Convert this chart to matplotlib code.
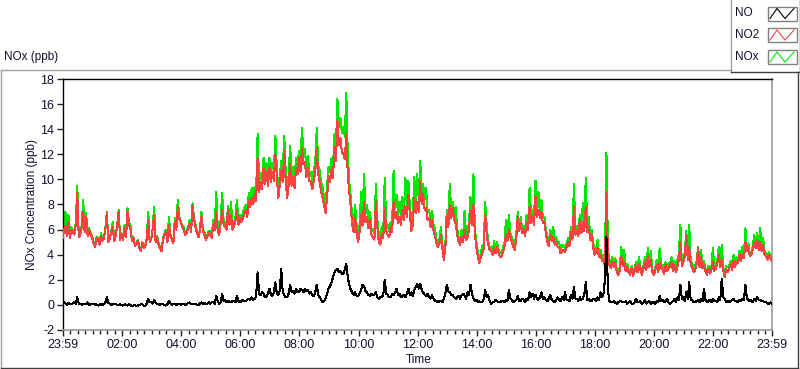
import numpy as np
import matplotlib
matplotlib.use("Agg")
import matplotlib.pyplot as plt
from matplotlib.lines import Line2D
from matplotlib.patches import Rectangle

plt.rcParams['font.family'] = ['Liberation Sans', 'DejaVu Sans']

# ---------------- data (3-minute samples from 23:59 to 23:59, one row per hour) ----------------
no2 = [
    5.3, 5.9, 6.3, 5.5, 6.6, 5.3, 6.0, 5.8, 5.6, 6.4, 8.9, 5.4, 5.6, 6.2, 7.4, 5.8, 7.0, 5.5, 6.0, 5.6,
    5.4, 4.9, 4.6, 5.3, 5.2, 4.8, 5.5, 5.1, 5.3, 6.0, 7.3, 5.0, 5.3, 5.8, 6.2, 5.1, 5.5, 6.3, 7.4, 5.2,
    5.6, 5.2, 6.1, 5.4, 7.5, 6.4, 6.0, 5.1, 5.3, 4.7, 4.8, 5.1, 4.5, 4.3, 4.9, 4.5, 4.7, 5.2, 6.8, 5.0,
    5.2, 6.0, 7.2, 5.0, 5.4, 4.8, 4.5, 4.3, 5.2, 5.6, 5.8, 5.0, 6.4, 5.5, 5.2, 4.9, 6.6, 6.0, 7.8, 6.9,
    6.6, 6.2, 6.0, 5.6, 5.7, 6.1, 6.5, 5.8, 7.9, 6.8, 6.2, 5.7, 5.4, 5.9, 7.0, 5.9, 5.6, 5.2, 5.4, 5.8,
    5.6, 5.3, 6.4, 6.0, 7.4, 5.9, 5.6, 6.5, 7.6, 6.4, 6.2, 6.0, 7.6, 6.4, 7.2, 6.0, 6.3, 6.7, 7.6, 6.4,
    6.9, 6.6, 6.9, 7.3, 7.6, 7.0, 8.4, 7.8, 8.5, 8.0, 8.8, 8.3, 11.7, 9.0, 9.8, 9.2, 10.9, 9.6, 10.6, 9.5,
    10.9, 9.8, 10.6, 9.9, 12.0, 10.2, 8.5, 9.6, 10.7, 9.8, 12.3, 9.9, 8.5, 9.6, 11.2, 9.5, 10.2, 9.3, 10.9, 10.4,
    11.7, 10.6, 12.5, 11.2, 11.4, 10.2, 10.9, 9.9, 9.8, 9.2, 9.9, 10.6, 12.5, 10.4, 9.8, 9.0, 8.5, 7.9, 7.3, 8.6,
    10.3, 9.8, 10.8, 10.1, 12.6, 11.5, 14.7, 12.7, 13.3, 12.2, 12.0, 11.6, 13.6, 10.4, 9.0, 7.8, 6.4, 5.8, 6.9, 5.7,
    5.0, 5.8, 7.2, 6.3, 8.2, 6.6, 7.0, 6.1, 6.8, 5.6, 5.4, 5.2, 8.2, 6.2, 5.0, 4.8, 5.6, 5.3, 7.7, 5.9,
    5.6, 5.4, 6.2, 5.8, 8.2, 6.9, 7.4, 6.5, 7.0, 6.4, 7.6, 6.8, 7.9, 7.0, 8.8, 7.2, 5.9, 6.4, 8.5, 7.3,
    8.2, 7.4, 9.9, 8.0, 8.8, 7.6, 7.7, 6.8, 6.9, 6.2, 6.8, 5.9, 5.5, 4.9, 4.6, 4.9, 5.6, 4.5, 3.6, 4.5,
    7.2, 6.2, 8.0, 6.9, 7.7, 6.8, 6.5, 5.6, 5.0, 4.8, 5.4, 5.0, 6.0, 5.2, 5.4, 6.0, 7.5, 6.4, 8.0, 5.6,
    4.6, 3.9, 3.3, 3.8, 4.1, 4.5, 7.2, 5.6, 4.8, 4.4, 4.3, 4.0, 4.5, 4.1, 4.6, 4.2, 3.8, 3.9, 4.2, 4.6,
    5.6, 5.1, 6.0, 5.4, 5.0, 4.6, 4.4, 5.3, 7.0, 5.9, 6.5, 5.7, 6.0, 5.5, 6.6, 6.0, 7.8, 6.5, 7.0, 6.4,
    8.6, 7.0, 7.6, 6.9, 7.4, 6.5, 6.6, 5.7, 5.0, 4.7, 5.6, 5.1, 5.4, 4.8, 5.0, 4.6, 4.6, 4.1, 4.2, 4.4,
    4.2, 4.6, 5.0, 4.7, 5.8, 5.2, 7.8, 5.6, 5.9, 5.5, 6.8, 5.7, 6.6, 5.9, 7.8, 5.8, 6.3, 5.2, 5.6, 4.6,
    4.0, 4.2, 4.5, 3.8, 4.0, 3.5, 3.6, 3.1, 9.0, 4.0, 3.2, 2.9, 3.4, 3.0, 3.4, 2.6, 2.4, 2.7, 3.8, 3.1,
    3.4, 2.7, 3.0, 2.6, 2.4, 2.9, 2.3, 2.7, 3.2, 2.6, 3.3, 2.8, 2.4, 2.9, 3.4, 2.8, 3.9, 3.0, 3.6, 2.6,
    2.4, 2.7, 3.2, 2.6, 3.4, 3.0, 2.8, 2.5, 3.2, 2.7, 2.9, 3.1, 3.4, 2.7, 3.2, 2.6, 3.0, 3.6, 5.0, 3.1,
    3.4, 3.9, 5.6, 3.6, 4.6, 3.2, 3.0, 2.6, 2.8, 3.3, 4.5, 3.0, 3.8, 2.9, 3.2, 2.7, 2.4, 2.9, 2.5, 2.8,
    3.4, 2.7, 2.9, 3.3, 4.0, 3.0, 3.6, 2.8, 2.2, 2.9, 2.6, 2.9, 3.2, 2.8, 3.5, 3.0, 3.4, 3.3, 4.0, 3.5,
    4.0, 3.7, 5.0, 4.3, 4.6, 3.9, 4.0, 4.4, 5.0, 4.5, 5.2, 4.4, 5.0, 4.3, 4.8, 4.0, 3.9, 3.6, 4.0, 3.7, 3.5,
]

nox = [
    5.5, 6.0, 7.4, 5.6, 7.2, 5.4, 6.2, 5.9, 5.7, 6.6, 9.5, 5.5, 5.7, 6.3, 8.4, 5.9, 7.3, 5.6, 6.1, 5.7,
    5.5, 5.0, 4.8, 5.4, 5.3, 4.9, 5.7, 5.2, 5.4, 6.1, 7.4, 5.1, 5.4, 5.9, 6.6, 5.2, 5.6, 6.4, 7.6, 5.3,
    5.7, 5.3, 6.4, 5.5, 7.7, 6.5, 6.3, 5.2, 5.4, 4.8, 4.9, 5.2, 4.6, 4.4, 5.0, 4.6, 4.8, 5.3, 7.4, 5.1,
    5.3, 6.1, 7.8, 5.1, 5.5, 4.9, 4.6, 4.4, 5.3, 5.7, 6.0, 5.1, 7.0, 5.6, 5.3, 5.0, 6.9, 6.1, 8.4, 7.0,
    6.7, 6.3, 6.2, 5.7, 5.9, 6.2, 6.8, 5.9, 8.1, 6.9, 6.4, 5.8, 5.6, 6.0, 7.4, 6.0, 5.8, 5.3, 5.6, 5.9,
    5.9, 5.5, 6.8, 6.2, 9.0, 6.2, 6.0, 6.8, 8.9, 6.7, 6.6, 6.3, 7.9, 6.7, 8.2, 6.3, 6.6, 7.0, 8.4, 6.8,
    7.2, 6.9, 7.3, 7.7, 8.0, 7.4, 8.9, 8.3, 9.3, 8.5, 9.4, 8.9, 13.6, 9.8, 10.5, 9.9, 11.7, 10.3, 11.3, 10.2,
    11.7, 10.5, 11.3, 10.6, 13.5, 10.9, 9.2, 10.3, 11.5, 10.5, 13.5, 10.6, 9.4, 10.3, 12.7, 10.2, 11.0, 10.0, 11.7, 11.1,
    12.3, 11.3, 14.1, 11.9, 12.4, 10.9, 11.9, 10.6, 10.6, 9.9, 10.8, 11.3, 14.1, 11.1, 10.7, 9.7, 9.4, 8.5, 8.2, 9.4,
    11.0, 10.6, 11.7, 11.0, 13.6, 12.6, 16.4, 14.2, 14.9, 13.7, 14.2, 13.4, 16.9, 12.0, 9.8, 8.6, 7.0, 6.4, 8.0, 6.3,
    5.6, 6.4, 9.0, 6.9, 10.4, 7.3, 8.0, 6.7, 7.4, 6.1, 6.0, 5.7, 9.6, 6.8, 5.6, 5.3, 6.2, 5.8, 10.1, 6.5,
    6.4, 5.9, 6.6, 6.3, 10.7, 7.6, 8.8, 7.2, 8.2, 7.0, 8.6, 7.4, 10.1, 7.7, 9.9, 7.9, 6.6, 7.0, 10.2, 8.2,
    10.4, 8.4, 11.5, 8.9, 9.6, 8.4, 9.3, 7.4, 7.6, 6.7, 7.5, 6.4, 6.0, 5.2, 5.0, 5.2, 6.2, 4.8, 4.1, 4.8,
    7.6, 6.8, 9.6, 7.5, 8.2, 7.3, 7.8, 6.1, 5.4, 5.2, 6.0, 5.4, 7.5, 5.6, 6.0, 6.5, 8.6, 7.3, 10.4, 6.0,
    5.0, 4.2, 3.7, 4.1, 4.7, 4.8, 8.2, 6.2, 5.1, 4.6, 4.6, 4.2, 5.1, 4.3, 5.0, 4.4, 4.1, 4.1, 4.6, 4.9,
    6.8, 5.4, 7.2, 5.7, 5.4, 4.9, 4.8, 5.6, 7.4, 6.2, 7.0, 6.0, 6.3, 5.8, 7.2, 6.4, 9.3, 7.1, 7.6, 6.9,
    9.9, 7.5, 9.0, 7.3, 8.4, 6.9, 7.0, 6.0, 5.4, 5.0, 6.0, 5.4, 6.2, 5.1, 5.4, 4.9, 5.0, 4.3, 4.8, 4.7,
    4.5, 4.9, 5.3, 5.0, 6.2, 5.5, 9.6, 6.0, 6.3, 5.8, 7.2, 6.0, 8.1, 6.2, 10.1, 6.2, 7.0, 5.5, 6.0, 4.9,
    4.6, 4.4, 5.2, 4.0, 4.4, 3.7, 4.0, 3.3, 12.1, 4.4, 3.6, 3.1, 3.8, 3.2, 3.7, 2.8, 2.7, 2.9, 4.6, 3.3,
    4.4, 2.9, 3.3, 2.8, 2.7, 3.1, 2.6, 2.9, 3.4, 2.8, 3.8, 3.0, 2.6, 3.1, 3.8, 3.0, 4.5, 3.2, 4.3, 2.8,
    2.7, 2.9, 3.6, 2.8, 4.5, 3.2, 3.2, 2.7, 3.4, 2.9, 3.3, 3.3, 3.8, 2.9, 3.5, 2.8, 3.6, 4.0, 6.4, 3.3,
    3.6, 4.2, 5.9, 3.8, 6.4, 3.4, 3.3, 2.8, 3.1, 3.5, 4.6, 3.2, 4.4, 3.1, 3.5, 2.9, 2.7, 3.1, 2.8, 3.0,
    4.5, 2.9, 3.2, 3.5, 4.6, 3.2, 4.8, 3.0, 2.5, 3.1, 3.0, 3.1, 3.5, 3.0, 4.0, 3.2, 3.8, 3.5, 4.3, 3.7,
    4.6, 3.9, 6.1, 4.5, 4.9, 4.1, 4.2, 4.6, 5.6, 4.7, 5.7, 4.6, 6.1, 4.5, 5.3, 4.2, 4.1, 3.8, 4.2, 3.9, 3.6,
]

no = [
    0.4, 0.2, 0.1, 0.0, 0.15, 0.1, 0.05, 0.15, 0.2, 0.1, 0.6, 0.1, 0.1, 0.0, 0.05, 0.1, 0.1, 0.2, 0.0, 0.05,
    0.05, 0.1, 0.0, 0.05, -0.05, 0.0, 0.1, 0.0, 0.05, 0.2, 0.6, 0.15, 0.1, 0.0, 0.05, 0.1, 0.1, 0.0, 0.0, 0.05,
    0.0, -0.05, 0.05, 0.0, -0.05, 0.05, 0.0, -0.1, -0.05, 0.0, -0.1, -0.05, 0.0, 0.05, 0.05, -0.05, -0.05, 0.1, 0.5, 0.2,
    0.2, 0.1, 0.4, 0.15, 0.1, 0.05, 0.0, 0.1, 0.05, 0.0, -0.05, 0.05, 0.3, 0.1, 0.0, 0.05, 0.1, 0.0, 0.05, 0.1,
    0.0, 0.05, 0.1, 0.0, 0.05, 0.15, 0.2, 0.05, 0.05, 0.1, 0.1, 0.0, 0.0, 0.1, 0.2, 0.1, 0.15, 0.05, 0.1, 0.2,
    0.1, 0.2, 0.2, 0.1, 0.7, 0.3, 0.1, 0.2, 0.9, 0.3, 0.4, 0.2, 0.3, 0.25, 0.2, 0.3, 0.3, 0.2, 0.7, 0.3,
    0.2, 0.3, 0.4, 0.3, 0.3, 0.4, 0.5, 0.4, 0.6, 0.4, 0.5, 0.7, 2.6, 0.9, 0.8, 1.0, 0.9, 0.6, 0.7, 0.9,
    1.3, 0.8, 0.7, 1.0, 1.8, 0.9, 0.8, 1.1, 2.9, 1.0, 0.8, 0.6, 0.6, 0.9, 1.6, 1.0, 1.1, 0.9, 1.3, 1.0,
    1.0, 1.3, 1.2, 1.0, 1.3, 1.1, 1.2, 0.9, 1.0, 0.8, 0.7, 1.0, 1.6, 0.8, 0.6, 0.4, 0.2, 0.3, 0.5, 0.9,
    1.3, 1.5, 1.8, 2.2, 2.6, 2.8, 2.9, 2.6, 2.7, 2.5, 2.5, 2.8, 3.3, 2.2, 1.6, 1.2, 1.0, 0.8, 1.0, 0.7,
    0.7, 0.9, 1.2, 1.6, 1.5, 1.1, 1.0, 0.8, 0.7, 0.9, 0.75, 0.8, 1.0, 0.6, 0.5, 0.6, 0.6, 0.8, 2.0, 0.9,
    0.8, 0.6, 0.6, 0.9, 0.8, 1.0, 1.3, 0.8, 0.9, 0.6, 0.7, 0.8, 0.6, 0.9, 1.3, 0.8, 1.0, 0.7, 1.2, 1.4,
    1.7, 1.3, 1.7, 1.2, 1.0, 0.8, 0.7, 0.9, 0.6, 0.5, 0.75, 0.5, 0.35, 0.3, 0.2, 0.3, 0.35, 0.2, 0.5, 0.9,
    1.6, 1.1, 1.0, 0.8, 0.8, 0.6, 0.5, 0.6, 0.7, 0.5, 0.75, 0.9, 0.75, 0.5, 1.0, 0.8, 1.6, 0.9, 0.5, 0.3,
    0.4, 0.2, 0.3, 0.2, 0.2, 0.5, 1.2, 0.6, 0.8, 0.3, 0.1, 0.2, 0.2, 0.4, 0.3, 0.2, 0.2, 0.3, 0.3, 0.2,
    0.4, 0.3, 1.2, 0.5, 0.4, 0.2, 0.3, 0.4, 0.7, 0.3, 0.3, 0.5, 0.4, 0.2, 0.5, 0.4, 1.0, 0.6, 0.9, 0.5,
    0.8, 0.5, 0.4, 0.6, 1.0, 0.5, 0.6, 0.4, 0.3, 0.5, 0.8, 0.4, 0.3, 0.2, 0.4, 0.6, 0.4, 0.3, 0.6, 0.4,
    1.0, 0.4, 0.4, 0.3, 0.8, 0.5, 1.4, 0.5, 0.5, 0.3, 0.6, 0.4, 0.5, 0.8, 1.8, 0.4, 0.5, 0.3, 0.3, 0.5,
    0.5, 0.3, 0.6, 0.4, 1.0, 0.6, 0.9, 2.0, 5.4, 1.2, 0.3, 0.2, 0.2, 0.3, 0.15, 0.1, 0.2, 0.3, 0.3, 0.2,
    0.2, 0.3, 0.1, 0.2, 0.3, 0.1, 0.1, 0.2, 0.5, 0.2, 0.2, 0.3, 0.1, 0.2, 0.4, 0.1, 0.2, 0.3, 0.1, 0.2,
    0.2, 0.1, 0.3, 0.2, 0.7, 0.3, 0.4, 0.2, 0.3, 0.5, 0.2, 0.1, 0.2, 0.3, 0.5, 0.2, 0.6, 0.4, 1.6, 0.5,
    0.6, 0.3, 1.0, 0.5, 1.8, 0.4, 0.4, 0.2, 0.2, 0.3, 0.4, 0.2, 0.5, 0.3, 1.3, 0.4, 0.2, 0.3, 0.4, 0.2,
    0.5, 0.3, 0.3, 0.2, 0.6, 0.4, 2.1, 0.6, 0.5, 0.2, 0.3, 0.2, 0.3, 0.4, 0.5, 0.3, 0.3, 0.2, 0.4, 0.3,
    0.5, 0.4, 1.6, 0.5, 0.4, 0.3, 0.4, 0.2, 0.5, 0.3, 0.6, 0.4, 0.4, 0.3, 0.3, 0.2, 0.2, 0.1, 0.1, 0.2, 0.1,
]

series_names = ['NO', 'NO2', 'NOx']
series_colors = ['#000000', '#ff4040', '#00e600']
x_tick_labels = ['23:59', '02:00', '04:00', '06:00', '08:00', '10:00', '12:00',
                 '14:00', '16:00', '18:00', '20:00', '22:00', '23:59']
y_ticks = [-2, 0, 2, 4, 6, 8, 10, 12, 14, 16, 18]

# time in hours relative to midnight (start 23:59 previous day)
t_start = -1.0 / 60.0
t_end = 24 + t_start
step_h = 0.05


def times(values):
    return t_start + step_h * np.arange(len(values))


# ---------------- figure ----------------
W, H = 800, 369
fig = plt.figure(figsize=(W / 100, H / 100), dpi=100)
fig.patch.set_facecolor('white')

bg = fig.add_axes([0, 0, 1, 1], zorder=0)
bg.set_xlim(0, W)
bg.set_ylim(H, 0)
bg.axis('off')

frame_light = '#a0a0a0'
frame_dark = '#404040'
txt_col = '#101030'
bg.add_line(Line2D([0.5, 730], [69.5, 69.5], color=frame_light, lw=1))
bg.add_line(Line2D([0.5, 0.5], [69.5, 367.5], color=frame_light, lw=1))
bg.add_line(Line2D([0.5, 797.5], [367.5, 367.5], color=frame_dark, lw=1))
bg.add_line(Line2D([797.5, 797.5], [72, 367.5], color=frame_dark, lw=1))

bg.text(4, 57, 'NOx (ppb)', fontsize=8.5, va='center', ha='left', color=txt_col)

# legend panel
bg.add_line(Line2D([730.5, 730.5], [0, 72], color=frame_light, lw=1))
bg.add_line(Line2D([730.5, 799.5], [72, 72], color=frame_dark, lw=1))
bg.add_line(Line2D([799.5, 799.5], [0, 72], color=frame_dark, lw=1))
leg_y = [13.5, 35.0, 57.0]
for name, col, yc in zip(series_names, series_colors, leg_y):
    bg.text(735, yc, name, fontsize=8.5, va='center', ha='left', color=txt_col)
    bg.add_patch(Rectangle((767.5, yc - 7), 29, 14, facecolor='white',
                           edgecolor='#808080', lw=1))
    bg.add_line(Line2D([770, 777, 785, 794], [yc + 5, yc - 5, yc + 5, yc - 5],
                       color=col, lw=0.8))

# main plot area
left, right, top, bottom = 62.5, 772.0, 79.0, 330.0
ax = fig.add_axes([left / W, 1 - bottom / H, (right - left) / W, (bottom - top) / H],
                  zorder=1)
ax.set_facecolor('white')

ax.plot(times(nox), nox, color=series_colors[2], lw=0.75, zorder=2, antialiased=False)
ax.plot(times(no2), no2, color=series_colors[1], lw=0.75, zorder=3, antialiased=False)
ax.plot(times(no), no, color=series_colors[0], lw=0.75, zorder=4, antialiased=False)

ax.set_xlim(t_start, t_end)
ax.set_ylim(-2, 18)

major_x = [t_start] + list(range(2, 24, 2)) + [t_end]
ax.set_xticks(major_x)
ax.set_xticklabels(x_tick_labels)
minor_x = [m * 0.25 for m in range(1, 96) if m % 8 != 0]
ax.set_xticks(minor_x, minor=True)
ax.set_yticks(y_ticks)
ax.set_yticklabels([str(v) for v in y_ticks])

ax.tick_params(axis='x', which='major', direction='out', length=4.5, width=1,
               pad=2, labelsize=9, colors='#202020', labelcolor=txt_col)
ax.tick_params(axis='x', which='minor', direction='out', length=2.8, width=1,
               colors='#202020')
ax.tick_params(axis='y', which='major', direction='out', length=4.5, width=1,
               pad=1.5, labelsize=9, colors='#202020', labelcolor=txt_col)

for s in ['left', 'top']:
    ax.spines[s].set_color('#000000')
    ax.spines[s].set_linewidth(1)
for s in ['right', 'bottom']:
    ax.spines[s].set_color('#9a9a9a')
    ax.spines[s].set_linewidth(1.2)

ax.set_ylabel('NOx Concentration (ppb)', fontsize=8.5, color=txt_col)
ax.yaxis.set_label_coords((32 - left) / (right - left), (bottom - 204.5) / (bottom - top))
ax.set_xlabel('Time', fontsize=8.5, color=txt_col)
ax.xaxis.set_label_coords((419 - left) / (right - left), -(360 - bottom) / (bottom - top))
ax.xaxis.label.set_va('center')
ax.yaxis.label.set_va('center')

fig.savefig('out.png', dpi=100)
